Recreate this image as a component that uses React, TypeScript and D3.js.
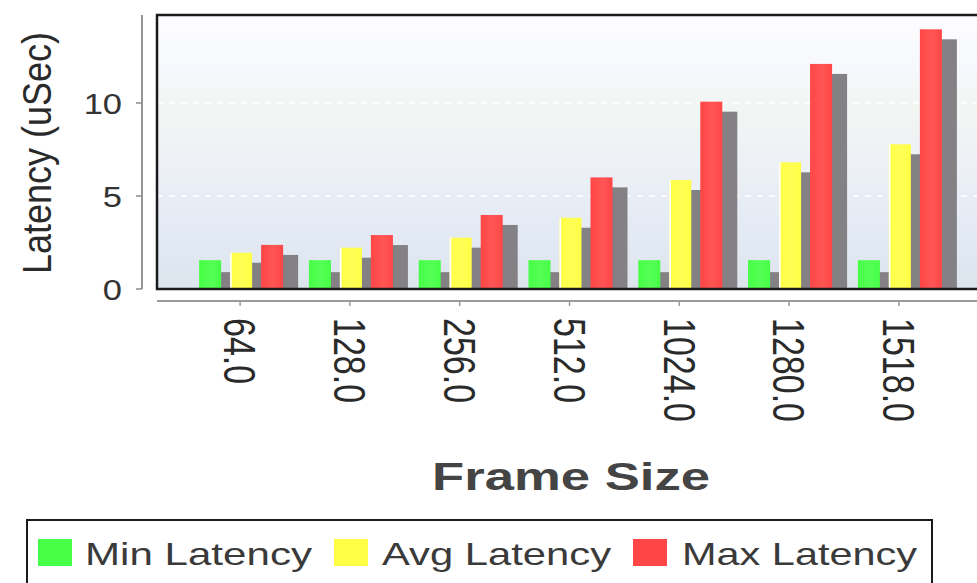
import React from 'react';
import * as d3 from 'd3';

// chart data
const categories = ['64.0', '128.0', '256.0', '512.0', '1024.0', '1280.0', '1518.0'];
const minLatency = [1.55, 1.55, 1.55, 1.55, 1.55, 1.55, 1.55];
const avgLatency = [1.95, 2.22, 2.76, 3.83, 5.86, 6.81, 7.78];
const maxLatency = [2.37, 2.9, 3.98, 6.0, 10.07, 12.1, 13.96];
const seriesNames = ['Min Latency', 'Avg Latency', 'Max Latency'];
const yTicks = [0, 5, 10];
const yMax = 14.73;

const seriesValues = [minLatency, avgLatency, maxLatency];
const colors = ['#46ff46', '#ffff46', '#ff4646'];
const shadowDx = [9, 10, 15];
const shadowDy = [12, 10, 10];

const W = 977;
const H = 583;
const plot = { left: 157, top: 15, right: 990, bottom: 289 };

const App = () => {
  const x = d3.scaleBand<string>()
    .domain(categories)
    .range([plot.left, 982])
    .paddingInner(0)
    .paddingOuter(0.257);

  const inner = d3.scaleBand<string>()
    .domain(seriesNames)
    .range([-41, 43])
    .paddingInner(0.29);

  const y = d3.scaleLinear()
    .domain([0, yMax])
    .range([plot.bottom, plot.top]);

  const center = (c: string) => (x(c) as number) + x.bandwidth() / 2;

  const bars = seriesNames.flatMap((s, si) =>
    categories.map((c, ci) => ({
      s, si, c,
      v: seriesValues[si][ci],
      x0: center(c) + (inner(s) as number),
    }))
  );

  const legendItems = [
    { sq: 38, tx: 85, len: 227 },
    { sq: 334, tx: 382, len: 229 },
    { sq: 633, tx: 682, len: 235 },
  ];

  return (
    <svg width={W} height={H} style={{ position: 'absolute', left: 0, top: 0 }}
      fontFamily="'Liberation Sans', Arial, sans-serif">
      <defs>
        <linearGradient id="bg" x1="0" y1="0" x2="0" y2="1">
          <stop offset="0%" stopColor="#fefcfe" />
          <stop offset="18%" stopColor="#f6f9fd" />
          <stop offset="33%" stopColor="#f1f6f3" />
          <stop offset="55%" stopColor="#edf0f6" />
          <stop offset="80%" stopColor="#e3eaf4" />
          <stop offset="100%" stopColor="#dce4ec" />
        </linearGradient>
        {colors.map((col, i) => (
          <linearGradient key={i} id={`bar${i}`} x1="0" y1="0" x2="1" y2="0">
            <stop offset="0%" stopColor={col} />
            <stop offset="55%" stopColor={d3.interpolateRgb(col, '#ffffff')(0.08)} />
            <stop offset="100%" stopColor={col} />
          </linearGradient>
        ))}
        <clipPath id="plotClip">
          <rect x={plot.left} y={plot.top} width={plot.right - plot.left} height={plot.bottom - plot.top} />
        </clipPath>
      </defs>

      {/* plot background */}
      <rect x={plot.left} y={plot.top} width={plot.right - plot.left} height={plot.bottom - plot.top} fill="url(#bg)" />

      {/* grid lines */}
      {yTicks.filter(t => t > 0).map(t => (
        <line key={t} x1={plot.left} x2={plot.right} y1={y(t)} y2={y(t)}
          stroke="#ffffff" strokeWidth={1.5} strokeDasharray="6,6" />
      ))}

      <g clipPath="url(#plotClip)">
        {/* shadows */}
        {bars.map((b, i) => (
          <rect key={`sh${i}`} x={b.x0 + shadowDx[b.si]} y={y(b.v) + shadowDy[b.si]}
            width={inner.bandwidth()} height={plot.bottom - y(b.v)} fill="#838184" />
        ))}
        {/* bars */}
        {bars.map((b, i) => (
          <rect key={`b${i}`} x={b.x0} y={y(b.v)} width={inner.bandwidth()}
            height={plot.bottom - y(b.v)} fill={`url(#bar${b.si})`} />
        ))}
        {bars.filter(b => b.si === 1).map((b, i) => (
          <line key={`hl${i}`} x1={b.x0 + 0.8} x2={b.x0 + 0.8} y1={y(b.v)} y2={plot.bottom}
            stroke="#ffffff" strokeWidth={1.6} />
        ))}
      </g>

      {/* plot frame */}
      <rect x={plot.left} y={plot.top} width={plot.right - plot.left} height={plot.bottom - plot.top}
        fill="none" stroke="#1a1a1a" strokeWidth={2.5} />

      {/* y axis */}
      <line x1={142} x2={142} y1={plot.top} y2={plot.bottom} stroke="#8a8a8a" strokeWidth={1.8} />
      {yTicks.map(t => (
        <g key={t}>
          <line x1={136} x2={142} y1={y(t)} y2={y(t)} stroke="#8a8a8a" strokeWidth={1.5} />
          <text x={0} y={0} transform={`translate(122,${y(t)}) scale(1.15,1)`} textAnchor="end"
            dy="0.36em" fontSize={30} fill="#333">{t}</text>
        </g>
      ))}
      <text transform={`translate(37,153) scale(1.12,1) rotate(-90)`} textAnchor="middle"
        dy="0.35em" fontSize={36} fill="#2a2a2a">Latency (uSec)</text>

      {/* x axis */}
      <line x1={plot.left} x2={W} y1={301} y2={301} stroke="#9a9a9a" strokeWidth={2} />
      {categories.map(c => (
        <g key={c}>
          <line x1={center(c)} x2={center(c)} y1={301} y2={306} stroke="#9a9a9a" strokeWidth={1.5} />
          <text transform={`translate(${center(c)},318) scale(1.28,1) rotate(90)`} textAnchor="start"
            dy="0.36em" fontSize={34} fill="#2a2a2a">{c}</text>
        </g>
      ))}
      <text x={432} y={490} fontSize={39} fontWeight="bold" fill="#444"
        textLength={278} lengthAdjust="spacingAndGlyphs">Frame Size</text>

      {/* legend */}
      <rect x={27} y={520} width={905} height={100} fill="#ffffff" stroke="#1a1a1a" strokeWidth={2} />
      {seriesNames.map((s, i) => (
        <g key={s}>
          <rect x={legendItems[i].sq} y={539} width={34} height={27} fill={colors[i]} />
          <text x={legendItems[i].tx} y={565} fontSize={32} fill="#3a3a3a"
            textLength={legendItems[i].len} lengthAdjust="spacingAndGlyphs">{s}</text>
        </g>
      ))}
    </svg>
  );
};

export default App;
